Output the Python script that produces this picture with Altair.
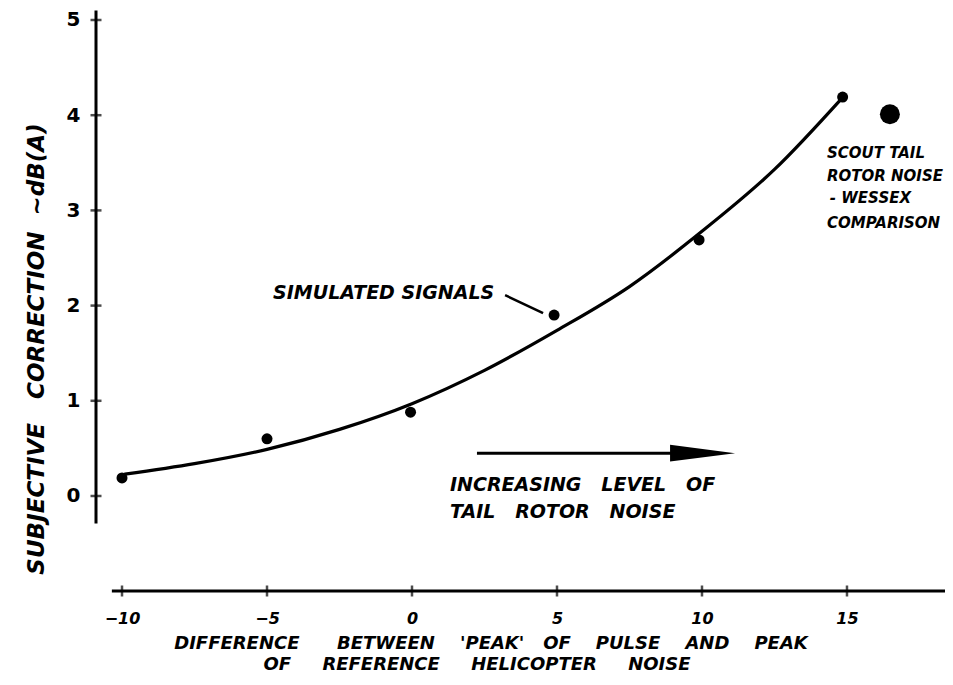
import altair as alt
import pandas as pd

# ---- axis ticks ----
x_ticks = [-10, -5, 0, 5, 10, 15]
y_ticks = [0, 1, 2, 3, 4, 5]

# ---- simulated signals (dots) ----
sim_x = [-10.0, -5.0, -0.05, 4.9, 9.9, 14.85]
sim_y = [0.19, 0.60, 0.88, 1.90, 2.69, 4.19]

# ---- hand-drawn fitted curve ----
curve_x = [-9.9, -7.5, -5.0, -2.5, 0.0, 2.5, 5.0, 7.5, 10.0, 12.5, 14.86]
curve_y = [0.23, 0.34, 0.49, 0.70, 0.97, 1.32, 1.74, 2.20, 2.78, 3.43, 4.19]

# ---- Scout / Wessex comparison point ----
scout_x = [16.48]
scout_y = [4.01]

# ---- annotation texts ----
note_text = ["SIMULATED\u00a0SIGNALS",
             "INCREASING\u00a0\u00a0\u00a0LEVEL\u00a0\u00a0\u00a0OF",
             "TAIL\u00a0\u00a0\u00a0ROTOR\u00a0\u00a0\u00a0NOISE",
             "SCOUT TAIL", "ROTOR NOISE", "- WESSEX", "COMPARISON"]
note_x = [-4.79, 1.31, 1.31, 14.31, 14.31, 14.41, 14.31]
note_y = [2.13, 0.116, -0.168, 3.60, 3.36, 3.13, 2.87]
note_fs = [19, 19, 19, 15, 15, 15, 15]

# leader line from label to dot, arrow
leader_x = [3.21, 4.52]
leader_y = [2.11, 1.92]
arrow_x = [2.24, 9.0]
arrow_head_x = [10.02]
arrow_y = [0.45]

# axis line extents
y_axis_span = [-0.29, 5.1]
x_axis_span = [-10.35, 18.38]

S4 = "\u00a0" * 4
S5 = "\u00a0" * 5
x_title = ["DIFFERENCE" + "\u00a0" * 6 + "BETWEEN" + S4 + "'PEAK'" + "\u00a0" * 3 + "OF" + S4 + "PULSE" + S4 + "AND" + S4 + "PEAK",
           "OF" + S5 + "REFERENCE" + S5 + "HELICOPTER" + S5 + "NOISE"]
y_title = "SUBJECTIVE\u00a0\u00a0\u00a0CORRECTION\u00a0\u00a0~dB(A)"

W, H = 849, 573
FONT = "DejaVu Sans"
xs = alt.Scale(domain=[-10.897, 18.38], nice=False, zero=False)
ys = alt.Scale(domain=[-0.998, 5.021], nice=False, zero=False)

pts = pd.DataFrame({"x": sim_x, "y": sim_y})
crv = pd.DataFrame({"x": curve_x, "y": curve_y, "o": list(range(len(curve_x)))})
sct = pd.DataFrame({"x": scout_x, "y": scout_y})
notes = pd.DataFrame({"x": note_x, "y": note_y, "t": note_text, "fs": note_fs})
leader = pd.DataFrame({"x": [leader_x[0]], "x2": [leader_x[1]], "y": [leader_y[0]], "y2": [leader_y[1]]})
arrow = pd.DataFrame({"x": [arrow_x[0]], "x2": [arrow_x[1]], "y": arrow_y})
head = pd.DataFrame({"x": arrow_head_x, "y": arrow_y})
yline = pd.DataFrame({"y": [y_axis_span[0]], "y2": [y_axis_span[1]]})
xline = pd.DataFrame({"x": [x_axis_span[0]], "x2": [x_axis_span[1]]})
xt = pd.DataFrame({"x": x_ticks})
yt = pd.DataFrame({"y": y_ticks})
xtitle = pd.DataFrame({"t": x_title, "px": [395, 381], "py": [626, 647]})

x_axis = alt.Axis(values=x_ticks, domain=False, ticks=False, grid=False, title=None,
                  format="d", labelFont=FONT, labelFontSize=16, labelFontWeight="bold",
                  labelFontStyle="italic", labelColor="black", labelPadding=19)
y_axis = alt.Axis(values=y_ticks, domain=False, ticks=False, grid=False, title=None,
                  format="d", labelFont=FONT, labelFontSize=20, labelFontWeight="bold",
                  labelColor="black", labelPadding=16)

dots = alt.Chart(pts).mark_circle(size=121, color="black", opacity=1).encode(
    x=alt.X("x:Q", scale=xs, axis=x_axis),
    y=alt.Y("y:Q", scale=ys, axis=y_axis),
)

curve = alt.Chart(crv).mark_line(color="black", strokeWidth=3.2, interpolate="monotone",
                                 strokeCap="round").encode(
    x=alt.X("x:Q", scale=xs), y=alt.Y("y:Q", scale=ys), order="o:Q")

scout = alt.Chart(sct).mark_circle(size=400, color="black", opacity=1).encode(
    x=alt.X("x:Q", scale=xs), y=alt.Y("y:Q", scale=ys))

ytick_m = alt.Chart(yt).mark_tick(orient="horizontal", size=11, thickness=2.5, color="black").encode(
    y=alt.Y("y:Q", scale=ys), x=alt.value(0))
xtick_m = alt.Chart(xt).mark_tick(orient="vertical", size=11, thickness=2.5, color="black").encode(
    x=alt.X("x:Q", scale=xs), y=alt.value(H))

yline_m = alt.Chart(yline).mark_rule(color="black", strokeWidth=3).encode(
    y=alt.Y("y:Q", scale=ys), y2="y2:Q", x=alt.value(0))
xline_m = alt.Chart(xline).mark_rule(color="black", strokeWidth=3).encode(
    x=alt.X("x:Q", scale=xs), x2="x2:Q", y=alt.value(H))

leader_m = alt.Chart(leader).mark_rule(color="black", strokeWidth=2.5).encode(
    x=alt.X("x:Q", scale=xs), x2="x2:Q", y=alt.Y("y:Q", scale=ys), y2="y2:Q")
arrow_m = alt.Chart(arrow).mark_rule(color="black", strokeWidth=3).encode(
    x=alt.X("x:Q", scale=xs), x2="x2:Q", y=alt.Y("y:Q", scale=ys))
head_m = alt.Chart(head).mark_point(shape="M -1 -0.26 L 1 0 L -1 0.26 Z", filled=True,
                                    size=4225, color="black", opacity=1).encode(
    x=alt.X("x:Q", scale=xs), y=alt.Y("y:Q", scale=ys))

notes_m = alt.Chart(notes).mark_text(align="left", baseline="middle", font=FONT,
                                     fontWeight="bold", fontStyle="italic", color="black").encode(
    x=alt.X("x:Q", scale=xs), y=alt.Y("y:Q", scale=ys), text="t:N",
    size=alt.Size("fs:Q", scale=None, legend=None))

xtitle_m = alt.Chart(xtitle).mark_text(align="center", baseline="middle", font=FONT,
                                       fontSize=18, fontWeight="bold", fontStyle="italic",
                                       color="black").encode(
    x=alt.X("px:Q", scale=None), y=alt.Y("py:Q", scale=None), text="t:N")

ytitle_m = alt.Chart(pd.DataFrame({"t": [y_title]})).mark_text(
    align="center", baseline="middle", angle=270, font=FONT, fontSize=23,
    fontWeight="bold", fontStyle="italic", color="black").encode(
    x=alt.value(-59), y=alt.value(331), text="t:N")

chart = alt.layer(
    dots, yline_m, xline_m, ytick_m, xtick_m, curve, scout, leader_m, arrow_m, head_m,
    notes_m, xtitle_m, ytitle_m
).properties(
    width=W, height=H,
    autosize=alt.AutoSizeParams(type="none"),
    padding={"left": 88, "top": 10, "right": 0, "bottom": 86},
    background="white",
).configure_view(stroke=None)

chart.save("out.html", embed_options={"renderer": "svg", "actions": False})
